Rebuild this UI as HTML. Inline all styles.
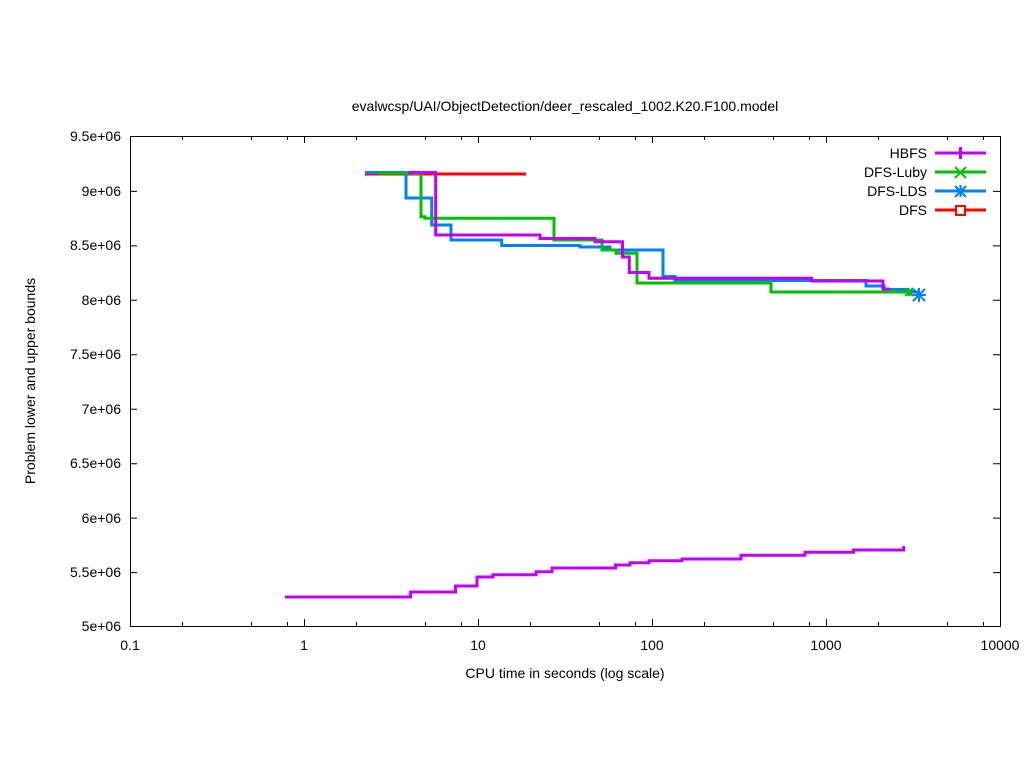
<!DOCTYPE html>
<html><head><style>body{margin:0;background:#fff}svg{display:block}text{font-family:"Liberation Sans",sans-serif;font-size:14px;fill:#000}</style></head>
<body>
<svg width="1024" height="768" viewBox="0 0 1024 768">
<g stroke="#000" stroke-width="1" fill="none">
<rect x="130.5" y="136.5" width="870" height="490"/>
<path d="M130 572.6h7M1000 572.6h-7M130 518.1h7M1000 518.1h-7M130 463.7h7M1000 463.7h-7M130 409.2h7M1000 409.2h-7M130 354.8h7M1000 354.8h-7M130 300.3h7M1000 300.3h-7M130 245.9h7M1000 245.9h-7M130 191.4h7M1000 191.4h-7"/>
<path d="M304.5 626v-7M304.5 136v7M478.5 626v-7M478.5 136v7M652.5 626v-7M652.5 136v7M826.5 626v-7M826.5 136v7"/>
<path d="M182.5 626v-4M182.5 136v4M251.5 626v-4M251.5 136v4M287.5 626v-4M287.5 136v4M356.5 626v-4M356.5 136v4M425.5 626v-4M425.5 136v4M461.5 626v-4M461.5 136v4M530.5 626v-4M530.5 136v4M599.5 626v-4M599.5 136v4M635.5 626v-4M635.5 136v4M704.5 626v-4M704.5 136v4M773.5 626v-4M773.5 136v4M809.5 626v-4M809.5 136v4M878.5 626v-4M878.5 136v4M947.5 626v-4M947.5 136v4M983.5 626v-4M983.5 136v4"/>
</g>
<g text-anchor="end">
<text x="121" y="631">5e+06</text><text x="121" y="577">5.5e+06</text><text x="121" y="523">6e+06</text><text x="121" y="468">6.5e+06</text><text x="121" y="414">7e+06</text><text x="121" y="359">7.5e+06</text><text x="121" y="305">8e+06</text><text x="121" y="250">8.5e+06</text><text x="121" y="196">9e+06</text><text x="121" y="141">9.5e+06</text>
</g>
<g text-anchor="middle">
<text x="130" y="650">0.1</text><text x="304" y="650">1</text><text x="478" y="650">10</text><text x="652" y="650">100</text><text x="826" y="650">1000</text><text x="1000" y="650">10000</text>
<text x="565" y="678">CPU time in seconds (log scale)</text>
<text x="565" y="111">evalwcsp/UAI/ObjectDetection/deer_rescaled_1002.K20.F100.model</text>
<text transform="translate(35 381) rotate(-90)">Problem lower and upper bounds</text>
</g>
<g fill="none" stroke-width="3">
<path stroke="#ff0000" d="M365 174H526"/>
<path stroke="#0080ff" d="M365 172.5H406V198H431.7V225H451V240H501.7V245.5H580V247H610V250H663V276.5H675V280.5H866V286H884V289.5H908V292H919"/>
<path stroke="#00c000" d="M378 173.3H421V216.7H425V218.3H554V240H602V250H616V253.3H637V283H771V292H909V296"/>
<path stroke="#c000ff" d="M408 172.5H435.7V235H540V238.5H595V241.7H622.5V257H629.3V272.5H649V278.3H811.7V281H883V289H890"/>
<path stroke="#c000ff" d="M285 597H410.6V592H455.5V586H477V577H493V574.7H536V571.7H552V568H615.5V565H630V562.7H649V560.7H682V559H741V555.3H805V552.3H853.5V550H903.7V546"/>
</g>
<g stroke="#0080ff" stroke-width="2"><path d="M913 289l12 12M925 289l-12 12M919 288v14M912 295h14"/></g>
<g stroke="#00c000" stroke-width="2"><path d="M905 288l8 8M913 288l-8 8"/></g>
<g text-anchor="end">
<text x="927" y="158">HBFS</text><text x="927" y="177">DFS-Luby</text><text x="927" y="196">DFS-LDS</text><text x="927" y="215">DFS</text>
</g>
<g stroke-width="3" fill="none">
<path stroke="#c000ff" d="M935 153h51M960.5 147v12"/>
<path stroke="#00c000" d="M935 172h51"/><path stroke="#00c000" stroke-width="2" d="M955 167l11 11M966 167l-11 11"/>
<path stroke="#0080ff" d="M935 191h51"/><path stroke="#0080ff" stroke-width="2" d="M955 186l11 11M966 186l-11 11M960.5 185v12M954 191h13"/>
<path stroke="#ff0000" d="M935 210h51"/><rect x="956" y="206" width="9" height="9" stroke="#ff0000" stroke-width="2" fill="#fff"/>
</g>
</svg>
</body></html>
